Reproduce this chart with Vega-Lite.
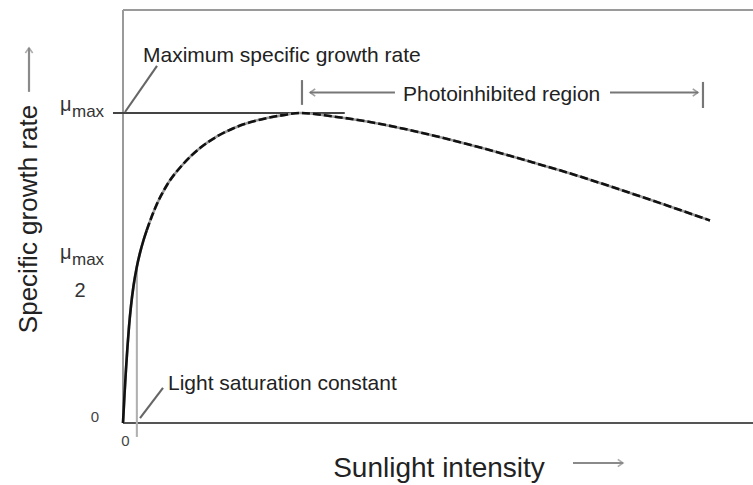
{
  "$schema": "https://vega.github.io/schema/vega-lite/v6.json",
  "width": 630,
  "height": 413,
  "autosize": "none",
  "padding": {"left": 123, "top": 10, "right": 0, "bottom": 62},
  "background": "white",
  "config": {"view": {"stroke": null}, "text": {"font": "Liberation Sans"}},
  "datasets": {
    "curve": [
      {"x": 0, "y": 0}, {"x": 0.238, "y": 0.0919}, {"x": 0.476, "y": 0.1742}, {"x": 0.714, "y": 0.2468},
      {"x": 0.952, "y": 0.3097}, {"x": 1.27, "y": 0.3774}, {"x": 1.667, "y": 0.4419}, {"x": 2.175, "y": 0.5019},
      {"x": 2.698, "y": 0.5487}, {"x": 3.254, "y": 0.5894}, {"x": 3.762, "y": 0.6213}, {"x": 4.286, "y": 0.651},
      {"x": 5.349, "y": 0.7048}, {"x": 6.937, "y": 0.7661}, {"x": 9.524, "y": 0.8345}, {"x": 12.222, "y": 0.8868},
      {"x": 14.921, "y": 0.9242}, {"x": 17.46, "y": 0.95}, {"x": 20.159, "y": 0.9697}, {"x": 22.857, "y": 0.9835},
      {"x": 25.397, "y": 0.9929}, {"x": 28.095, "y": 1.0}, {"x": 33.33, "y": 0.9887}, {"x": 38.73, "y": 0.9726},
      {"x": 43.97, "y": 0.9516}, {"x": 49.21, "y": 0.9274}, {"x": 54.6, "y": 0.9}, {"x": 59.84, "y": 0.871},
      {"x": 65.08, "y": 0.8403}, {"x": 70.48, "y": 0.8081}, {"x": 75.71, "y": 0.7742}, {"x": 80.95, "y": 0.7387},
      {"x": 86.35, "y": 0.7016}, {"x": 91.59, "y": 0.6645}, {"x": 93.17, "y": 0.6532}
    ],
    "rules": [
      {"kind": "frame", "x": 0, "x2": 100, "y": 1.332, "y2": 1.332},
      {"kind": "frame", "x": 0, "x2": 0, "y": 0, "y2": 1.332},
      {"kind": "xaxis", "x": 0, "x2": 100, "y": 0, "y2": 0},
      {"kind": "guide", "x": 2.2, "x2": 2.2, "y": 0.5, "y2": -0.045},
      {"kind": "mumax", "x": -1.59, "x2": 35.2, "y": 1, "y2": 1},
      {"kind": "leader", "x": 0.32, "x2": 5.4, "y": 1.003, "y2": 1.152},
      {"kind": "leader", "x": 2.7, "x2": 6.35, "y": 0.016, "y2": 0.113},
      {"kind": "bracket", "x": 28.41, "x2": 28.41, "y": 1.106, "y2": 1.026},
      {"kind": "bracket", "x": 29.68, "x2": 43.17, "y": 1.066, "y2": 1.066},
      {"kind": "bracket", "x": 77.3, "x2": 91.27, "y": 1.066, "y2": 1.066},
      {"kind": "bracket", "x": 92.06, "x2": 92.06, "y": 1.1, "y2": 1.016},
      {"kind": "titlearrow", "x": -14.92, "x2": -14.92, "y": 1.068, "y2": 1.21},
      {"kind": "titlearrow", "x": 71.43, "x2": 79.37, "y": -0.129, "y2": -0.129}
    ],
    "heads": [
      {"kind": "bracket", "x": 29.68, "y": 1.066, "dir": 180},
      {"kind": "bracket", "x": 91.27, "y": 1.066, "dir": 0},
      {"kind": "titlearrow", "x": -14.92, "y": 1.21, "dir": 270},
      {"kind": "titlearrow", "x": 79.37, "y": -0.129, "dir": 0}
    ]
  },
  "layer": [
    {
      "data": {"name": "rules"},
      "mark": {"type": "rule", "clip": false},
      "encoding": {
        "x": {"field": "x", "type": "quantitative", "scale": {"domain": [0, 100], "nice": false, "zero": false}, "axis": null},
        "x2": {"field": "x2"},
        "y": {"field": "y", "type": "quantitative", "scale": {"domain": [0, 1.332], "nice": false, "zero": false}, "axis": null},
        "y2": {"field": "y2"},
        "color": {"field": "kind", "type": "nominal", "legend": null,
          "scale": {"domain": ["frame", "xaxis", "guide", "mumax", "leader", "bracket", "titlearrow"],
                    "range": ["#9a9a9a", "#555555", "#b0b0b0", "#444444", "#666666", "#777777", "#8a8a8a"]}},
        "strokeWidth": {"field": "kind", "type": "nominal", "legend": null,
          "scale": {"domain": ["frame", "xaxis", "guide", "mumax", "leader", "bracket", "titlearrow"],
                    "range": [2, 2.2, 1, 2, 1.2, 1.6, 1.5]}}
      }
    },
    {
      "data": {"name": "heads"},
      "mark": {"type": "point", "shape": "M-1,-0.7L0,0L-1,0.7", "filled": false, "size": 110, "clip": false},
      "encoding": {
        "x": {"field": "x", "type": "quantitative"},
        "y": {"field": "y", "type": "quantitative"},
        "angle": {"field": "dir", "type": "quantitative", "scale": null},
        "color": {"field": "kind", "type": "nominal", "legend": null,
          "scale": {"domain": ["frame", "xaxis", "guide", "mumax", "leader", "bracket", "titlearrow"],
                    "range": ["#9a9a9a", "#555555", "#b0b0b0", "#444444", "#666666", "#777777", "#8a8a8a"]}},
        "strokeWidth": {"value": 1.6}
      }
    },
    {
      "data": {"name": "curve"},
      "mark": {"type": "line", "color": "#9a9a9a", "strokeWidth": 2.6, "interpolate": "monotone", "clip": false},
      "encoding": {"x": {"field": "x", "type": "quantitative"}, "y": {"field": "y", "type": "quantitative"}}
    },
    {
      "data": {"name": "curve"},
      "transform": [{"filter": "datum.x >= 3.762"}],
      "mark": {"type": "line", "color": "#111111", "strokeWidth": 2.6, "strokeDash": [8, 3], "interpolate": "monotone", "clip": false},
      "encoding": {"x": {"field": "x", "type": "quantitative"}, "y": {"field": "y", "type": "quantitative"}}
    },
    {
      "data": {"name": "curve"},
      "transform": [{"filter": "datum.x <= 3.762"}],
      "mark": {"type": "line", "color": "#111111", "strokeWidth": 2.6, "interpolate": "monotone", "clip": false},
      "encoding": {"x": {"field": "x", "type": "quantitative"}, "y": {"field": "y", "type": "quantitative"}}
    },
    {
      "data": {"values": [
        {"x": 3.17, "y": 1.165, "t": "Maximum specific growth rate"},
        {"x": 44.44, "y": 1.039, "t": "Photoinhibited region"},
        {"x": 7.14, "y": 0.106, "t": "Light saturation constant"}
      ]},
      "mark": {"type": "text", "fontSize": 21, "align": "left", "baseline": "alphabetic", "color": "#222222", "clip": false},
      "encoding": {"x": {"field": "x", "type": "quantitative"}, "y": {"field": "y", "type": "quantitative"}, "text": {"field": "t"}}
    },
    {
      "data": {"values": [{"x": 50.16, "y": -0.174, "t": "Sunlight intensity"}]},
      "mark": {"type": "text", "fontSize": 28, "align": "center", "baseline": "alphabetic", "color": "#222222", "clip": false},
      "encoding": {"x": {"field": "x", "type": "quantitative"}, "y": {"field": "y", "type": "quantitative"}, "text": {"field": "t"}}
    },
    {
      "data": {"values": [{"x": -13.65, "y": 0.658, "t": "Specific growth rate"}]},
      "mark": {"type": "text", "fontSize": 26, "align": "center", "baseline": "alphabetic", "angle": 270, "color": "#222222", "clip": false},
      "encoding": {"x": {"field": "x", "type": "quantitative"}, "y": {"field": "y", "type": "quantitative"}, "text": {"field": "t"}}
    },
    {
      "data": {"values": [{"x": -4.44, "y": 0.019, "t": "0"}, {"x": 0.4, "y": -0.058, "t": "0"}]},
      "mark": {"type": "text", "fontSize": 15, "align": "center", "baseline": "middle", "color": "#444444", "clip": false},
      "encoding": {"x": {"field": "x", "type": "quantitative"}, "y": {"field": "y", "type": "quantitative"}, "text": {"field": "t"}}
    },
    {
      "data": {"values": [{"x": -10.0, "y": 1.006, "t": "μ"}, {"x": -10.0, "y": 0.529, "t": "μ"}]},
      "mark": {"type": "text", "fontSize": 20, "align": "left", "baseline": "alphabetic", "color": "#333333", "clip": false},
      "encoding": {"x": {"field": "x", "type": "quantitative"}, "y": {"field": "y", "type": "quantitative"}, "text": {"field": "t"}}
    },
    {
      "data": {"values": [{"x": -8.1, "y": 0.987, "t": "max"}, {"x": -8.1, "y": 0.51, "t": "max"}]},
      "mark": {"type": "text", "fontSize": 17, "align": "left", "baseline": "alphabetic", "color": "#333333", "clip": false},
      "encoding": {"x": {"field": "x", "type": "quantitative"}, "y": {"field": "y", "type": "quantitative"}, "text": {"field": "t"}}
    },
    {
      "data": {"values": [{"x": -6.83, "y": 0.406, "t": "2"}]},
      "mark": {"type": "text", "fontSize": 20, "align": "center", "baseline": "alphabetic", "color": "#333333", "clip": false},
      "encoding": {"x": {"field": "x", "type": "quantitative"}, "y": {"field": "y", "type": "quantitative"}, "text": {"field": "t"}}
    }
  ]
}
